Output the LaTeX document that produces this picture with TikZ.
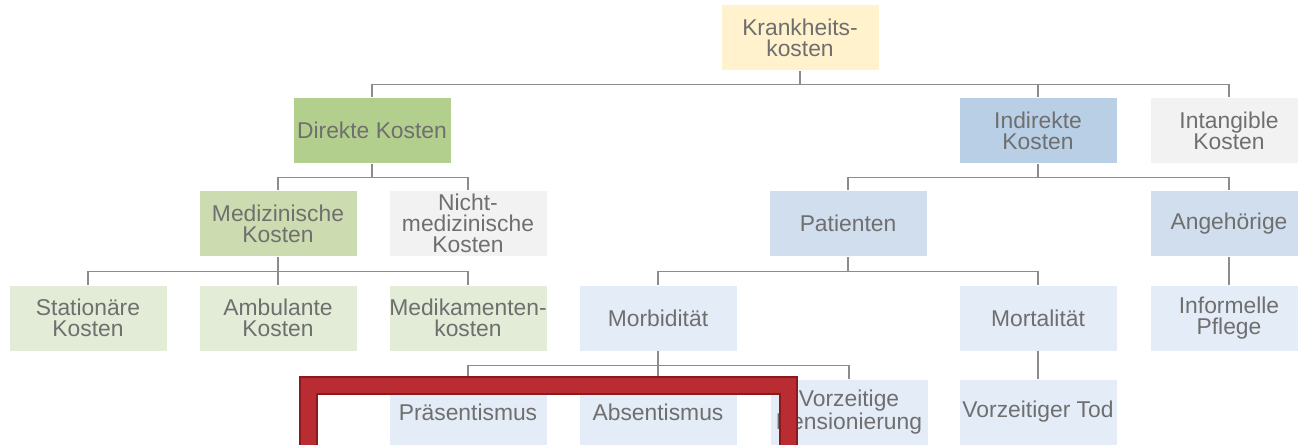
\documentclass[tikz,border=0pt]{standalone}
\usepackage{fontspec}
\setmainfont{Liberation Sans}

\definecolor{txtgray}{HTML}{6F6F6F}
\definecolor{linegray}{HTML}{8C8C8C}
\definecolor{kkyellow}{HTML}{FFF2CC}
\definecolor{greenA}{HTML}{B3CF8D}
\definecolor{greenB}{HTML}{CDDCB0}
\definecolor{greenC}{HTML}{E3ECD6}
\definecolor{blueA}{HTML}{B8CFE5}
\definecolor{blueB}{HTML}{D0DEEE}
\definecolor{blueC}{HTML}{E4ECF7}
\definecolor{grayA}{HTML}{F2F2F2}
\definecolor{frameRed}{HTML}{B92C31}
\definecolor{frameDark}{HTML}{8B1A1E}

\tikzset{
  kbox/.style={minimum width=3.16cm, minimum height=1.32cm, inner sep=0pt,
    align=center, text=txtgray, draw=white, line width=0.4pt,
    font=\fontsize{13}{12}\selectfont},
  conn/.style={draw=linegray, line width=0.7pt}
}

\begin{document}
\begin{tikzpicture}[x=0.02cm, y=-0.02cm]
\useasboundingbox (0,0) rectangle (1298,445);
\clip (0,0) rectangle (1298,445);

% Ebene 0 und 1
\node[kbox, fill=kkyellow] (kk) at (800,37.5) {Krankheits-\\kosten};
\node[kbox, fill=greenA] (dk) at (372,130.5) {Direkte Kosten};
\node[kbox, fill=blueA] (ik) at (1038,130.5) {Indirekte\\Kosten};
\node[kbox, fill=grayA] (tk) at (1229,130.5) {Intangible\\Kosten};

% Ebene 2
\node[kbox, fill=greenB] (mk) at (278,223.5) {Medizinische\\Kosten};
\node[kbox, fill=grayA] (nk) at (468,223.5) {Nicht-\\medizinische\\Kosten};
\node[kbox, fill=blueB] (pa) at (848,223.5) {Patienten};
\node[kbox, fill=blueB] (an) at (1229,223.5) {Angehörige};

% Ebene 3
\node[kbox, fill=greenC] (sk) at (88,318) {Stationäre\\Kosten};
\node[kbox, fill=greenC] (ak) at (278,318) {Ambulante\\Kosten};
\node[kbox, fill=greenC] (mek) at (468,318) {Medikamenten-\\kosten};
\node[kbox, fill=blueC] (mb) at (658,318) {Morbidität};
\node[kbox, fill=blueC] (mt) at (1038,318) {Mortalität};
\node[kbox, fill=blueC] (ip) at (1229,318) {Informelle\\Pflege};

% Ebene 4
\node[kbox, fill=blueC] (ps) at (468,412) {Präsentismus};
\node[kbox, fill=blueC] (ab) at (658,412) {Absentismus};
\node[kbox, fill=blueC] (vp) at (849,412) {Vorzeitige\\Pensionierung};
\node[kbox, fill=blueC] (vt) at (1038,412) {Vorzeitiger Tod};

% Verbindungen
\draw[conn] (kk.south) -- ++(0,14) -| (dk.north);
\draw[conn] (kk.south) -- ++(0,14) -| (ik.north);
\draw[conn] (kk.south) -- ++(0,14) -| (tk.north);

\draw[conn] (dk.south) -- ++(0,13.5) -| (mk.north);
\draw[conn] (dk.south) -- ++(0,13.5) -| (nk.north);
\draw[conn] (ik.south) -- ++(0,13.5) -| (pa.north);
\draw[conn] (ik.south) -- ++(0,13.5) -| (an.north);

\draw[conn] (mk.south) -- ++(0,14.5) -| (sk.north);
\draw[conn] (mk.south) -- ++(0,14.5) -| (ak.north);
\draw[conn] (mk.south) -- ++(0,14.5) -| (mek.north);
\draw[conn] (pa.south) -- ++(0,14.5) -| (mb.north);
\draw[conn] (pa.south) -- ++(0,14.5) -| (mt.north);
\draw[conn] (an.south) -- (ip.north);

\draw[conn] (mb.south) -- ++(0,14) -| (ps.north);
\draw[conn] (mb.south) -- ++(0,14) -| (ab.north);
\draw[conn] (mb.south) -- ++(0,14) -| (vp.north);
\draw[conn] (mt.south) -- (vt.north);

% roter Rahmen
\filldraw[fill=frameRed, draw=frameDark, line width=1pt, even odd rule]
  (300,377) rectangle (797,470) (317,394) rectangle (780,470);

\end{tikzpicture}
\end{document}
